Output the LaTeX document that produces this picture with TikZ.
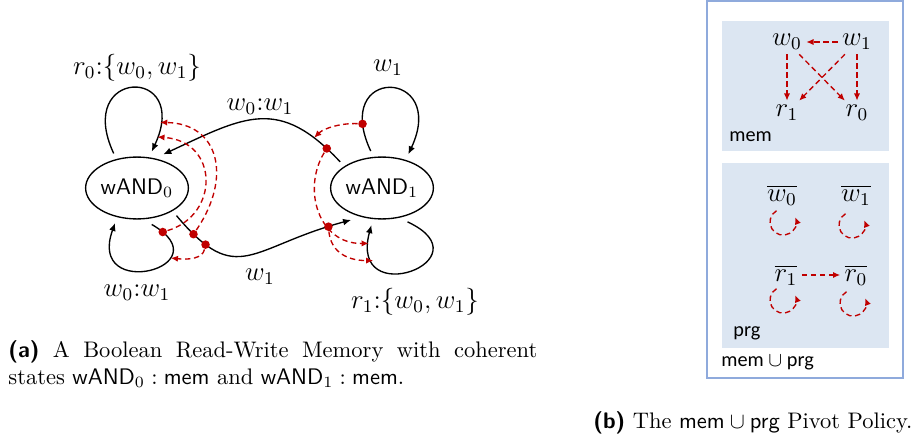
\documentclass[tikz,border=0pt]{standalone}
\usepackage{amsmath}
\usepackage{fontspec}
\usetikzlibrary{shapes,arrows.meta,positioning,calc}
\newfontfamily\boxfont{Carlito}
\definecolor{darkred}{HTML}{C00000}
\definecolor{panelblue}{HTML}{DCE6F2}
\definecolor{frameblue}{HTML}{8FAADC}
\newcommand{\BOXTEXT}[1]
{
    {\fontsize{9pt}{11pt}\boxfont #1}
}
\newcommand{\SELFLOOP}[1]
{
    \draw[dep] ([shift={(120:13)}]#1) arc[start angle=120,end angle=382,radius=5.8pt];
}
\tikzset{
  wnode/.style={
    ellipse,draw,semithick,inner sep=0pt,outer sep=3pt,
    minimum width=44pt,minimum height=27.5pt,font=\sffamily,
  },
  trans/.style={semithick,-{Latex[length=3.6pt,width=3pt]}},
  dep/.style={semithick,darkred,dash pattern=on 2.4pt off 1.6pt,-{Latex[length=3.2pt,width=2.8pt]}},
  dot/.style={circle,fill=darkred,inner sep=0pt,minimum size=3.8pt},
  lbl/.style={font=\large},
  var/.style={font=\large,inner sep=1.8pt},
}

\begin{document}
\begin{tikzpicture}[x=0.4444pt,y=0.4444pt]
    \useasboundingbox (0,0) rectangle (922,-439);

    % states of the memory
    \node[wnode] (wand0) at (137,-188) {wAND$_0$};
    \node[wnode] (wand1) at (382,-188) {wAND$_1$};

    \draw[trans] (wand0.124) .. controls +(115:95) and +(65:95) .. (wand0.68)
        coordinate[pos=0.87] (t0a) coordinate[pos=0.94] (t0b);
    \draw[trans] (wand0.-68) .. controls +(-30:85) and +(-110:85) .. (wand0.-122)
        node[dot,pos=0.06] (dA) {} coordinate[pos=0.3] (tC);
    \draw[trans] (wand1.107) .. controls +(115:95) and +(65:95) .. (wand1.52)
        node[dot,pos=0.12] (dD) {};
    \draw[trans] (wand1.-53) .. controls +(-25:90) and +(-105:90) .. (wand1.-106)
        coordinate[pos=0.92] (tE) coordinate[pos=0.81] (tF);
    \draw[trans] (wand1.148) .. controls +(133:90) and +(25:90) .. (wand0.52)
        node[dot,pos=0.075] (dE) {} coordinate[pos=0.15] (tD);
    \draw[trans] (wand0.-35) .. controls +(-50:95) and +(195:105) .. (wand1.-134)
        node[dot,pos=0.1] (dB) {} node[dot,pos=0.18] (dC) {} node[dot,pos=0.92] (dF) {};

    \node[lbl] (lloop0) at (137,-68) {$r_0{:}\{w_0,w_1\}$};
    \node[lbl] (lloop1) at (388,-68) {$w_1$};
    \node[lbl] (ltop) at (260,-107) {$w_0{:}w_1$};
    \node[lbl] (lbot) at (260,-277) {$w_1$};
    \node[lbl] (lloop2) at (137,-293) {$w_0{:}w_1$};
    \node[lbl] (lloop3) at (415,-302) {$r_1{:}\{w_0,w_1\}$};

    \draw[dep] (dA) .. controls +(57,17) and +(62,-4) .. (t0b);
    \draw[dep] (dB) .. controls +(39,57) and +(59,-1) .. (t0a);
    \draw[dep] (dC) .. controls +(-3,-14) and +(18,-2) .. (tC);
    \draw[dep] (dD) .. controls +(-20,1) and +(10,10) .. (tD);
    \draw[dep] (dE) .. controls +(-25,-41) and +(-50,-1) .. (tE);
    \draw[dep] (dF) .. controls +(2,-22) and +(-30,0) .. (tF);

    % pivot policy
    \draw[frameblue,line width=0.7pt] (707,-1) rectangle (903,-378);
    \fill[panelblue] (722,-21) rectangle (889,-151);
    \fill[panelblue] (722,-163) rectangle (889,-348);

    \node[var] (w0) at (787,-42) {$w_0$};
    \node[var] (w1) at (857,-42) {$w_1$};
    \node[var] (r1) at (787,-113) {$r_1$};
    \node[var] (r0) at (857,-113) {$r_0$};
    \draw[dep] (w1) -- (w0);
    \draw[dep] (w0) -- (r1);
    \draw[dep] (w1) -- (r0);
    \draw[dep] (w0) -- (r0);
    \draw[dep] (w1) -- (r1);
    \node[anchor=west,inner sep=0pt] (memlbl) at (729,-137) {\BOXTEXT{mem}};

    \node[var] (w0b) at (782,-195) {$\overline{w_0}$};
    \node[var] (w1b) at (856,-195) {$\overline{w_1}$};
    \node[var] (r1b) at (786,-275) {$\overline{r_1}$};
    \node[var] (r0b) at (856,-275) {$\overline{r_0}$};
    \draw[dep] (r1b) -- (r0b);
    \coordinate (lw0) at (783,-222);
    \coordinate (lw1) at (852,-225);
    \coordinate (lr1) at (783,-300);
    \coordinate (lr0) at (853,-303);
    \SELFLOOP{lw0}
    \SELFLOOP{lw1}
    \SELFLOOP{lr1}
    \SELFLOOP{lr0}
    \node[anchor=west,inner sep=0pt] (prglbl) at (733,-333) {\BOXTEXT{prg}};
    \node[anchor=west,inner sep=0pt] (unionlbl) at (721,-363) {\BOXTEXT{mem $\cup$ prg}};

    % captions
    \node[anchor=north west,text width=235pt,align=justify,inner sep=0pt] (capa) at (8,-340) {
        \textsf{\textbf{(a)}} A Boolean Read-Write Memory with coherent
        states $\textsf{wAND}_0 : \textsf{mem}$ and $\textsf{wAND}_1 : \textsf{mem}$.
    };
    \node[anchor=west,inner sep=0pt] (capb) at (593,-423) {
        \textsf{\textbf{(b)}} The $\textsf{mem} \cup \textsf{prg}$ Pivot Policy.
    };
\end{tikzpicture}
\end{document}
